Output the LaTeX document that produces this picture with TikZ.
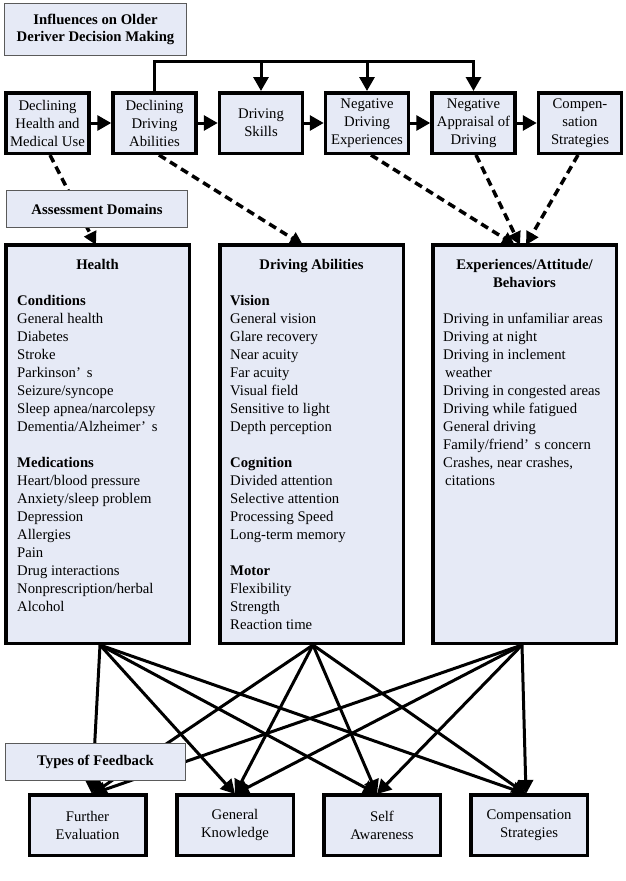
\documentclass[tikz,border=0pt]{standalone}
\usepackage{fontspec}
\setmainfont{Liberation Serif}
\usetikzlibrary{arrows.meta}
\definecolor{boxfill}{RGB}{230,234,246}
\definecolor{thinline}{RGB}{90,90,90}
\begin{document}
\begin{tikzpicture}[x=1pt,y=-1pt,
  every node/.style={font=\fontsize{14.7}{18}\selectfont},
  thickbox/.style={draw=black, line width=3.5pt, fill=boxfill, align=center, inner sep=0pt},
  topbox/.style={thickbox, minimum width=83pt, minimum height=60.5pt},
  botbox/.style={thickbox, minimum width=116.5pt, minimum height=60.5pt},
  bigbox/.style={thickbox, minimum width=183.5pt, minimum height=398.5pt},
  thinbox/.style={draw=thinline, line width=1pt, fill=boxfill, align=center, inner sep=0pt, font=\bfseries\fontsize{14.7}{17}\selectfont},
  listtext/.style={anchor=base west, align=left, inner sep=0pt},
  headtext/.style={anchor=base, align=center, inner sep=0pt, font=\bfseries\fontsize{14.7}{18}\selectfont},
  conn/.style={line width=3pt, -{Triangle[length=14pt,width=15pt]}},
  dconn/.style={line width=3.5pt, dash pattern=on 8pt off 5pt, -{Triangle[length=13pt,width=13pt]}},
  ]
\useasboundingbox (0,0) rectangle (625,881);
\fill[white] (0,0) rectangle (625,881);

% title
\node[thinbox, minimum width=182pt, minimum height=52pt] (title) at (95.5,29.5) {Influences on Older\\Deriver Decision Making};

% top row
\node[topbox] (b1) at (47.5,123) {Declining\\Health and\\Medical Use};
\node[topbox] (b2) at (154.5,123) {Declining\\Driving\\Abilities};
\node[topbox] (b3) at (261,123) {Driving\\Skills};
\node[topbox] (b4) at (367,123) {Negative\\Driving\\Experiences};
\node[topbox] (b5) at (473.5,123) {Negative\\Appraisal of\\Driving};
\node[topbox] (b6) at (580,123) {Compen-\\sation\\Strategies};

\draw[conn] (b1.east) -- (b2.west);
\draw[conn] (b2.east) -- (b3.west);
\draw[conn] (b3.east) -- (b4.west);
\draw[conn] (b4.east) -- (b5.west);
\draw[conn] (b5.east) -- (b6.west);

\coordinate (kk) at (0,61);
\draw[conn, line join=miter] (b2.north) -- (b2.north |- kk) -- (b5.north |- kk) -- (b5.north);
\draw[conn] (b3.north |- kk) -- (b3.north);
\draw[conn] (b4.north |- kk) -- (b4.north);

% big boxes
\node[bigbox] (hb) at (97.5,444) {};
\node[bigbox] (db) at (311.5,444) {};
\node[bigbox] (eb) at (524.5,444) {};

% base anchor of a multi-line node = baseline of its last line
\node[headtext] (hbt) at (97.5,269.5) {Health};
\node[listtext] (hbl) at (17,611.5) {\textbf{Conditions}\\General health\\Diabetes\\Stroke\\Parkinson’\hspace{6pt}s\\Seizure/syncope\\Sleep apnea/narcolepsy\\Dementia/Alzheimer’\hspace{6pt}s\\[18pt]\textbf{Medications}\\Heart/blood pressure\\Anxiety/sleep problem\\Depression\\Allergies\\Pain\\Drug interactions\\Nonprescription/herbal\\Alcohol};

\node[headtext] (dbt) at (311.5,269.5) {Driving Abilities};
\node[listtext] (dbl) at (230,629.5) {\textbf{Vision}\\General vision\\Glare recovery\\Near acuity\\Far acuity\\Visual field\\Sensitive to light\\Depth perception\\[18pt]\textbf{Cognition}\\Divided attention\\Selective attention\\Processing Speed\\Long-term memory\\[18pt]\textbf{Motor}\\Flexibility\\Strength\\Reaction time};

\node[headtext] (ebt) at (524.5,287.5) {Experiences/Attitude/\\Behaviors};
\node[listtext] (ebl) at (443,485.5) {Driving in unfamiliar areas\\Driving at night\\Driving in inclement\\\hspace{2pt}weather\\Driving in congested areas\\Driving while fatigued\\General driving\\Family/friend’\hspace{6pt}s concern\\Crashes, near crashes,\\\hspace{2pt}citations};

% bottom boxes
\node[botbox] (f1) at (87.5,825) {Further\\Evaluation};
\node[botbox] (f2) at (235,825) {General\\Knowledge};
\node[botbox] (f3) at (382,825) {Self\\Awareness};
\node[botbox] (f4) at (529,825) {Compensation\\Strategies};

% dashed arrows
\draw[dconn] ([xshift=2.5pt]b1.south) -- ([xshift=-1.5pt,yshift=-2pt]hb.north);
\draw[dconn] ([xshift=4.5pt]b2.south) -- ([xshift=-8.5pt,yshift=-2pt]db.north);
\draw[dconn] ([xshift=4pt]b4.south) -- ([xshift=-9.5pt,yshift=-2pt]eb.north);
\draw[dconn] ([xshift=2.5pt]b5.south) -- ([xshift=-4.5pt,yshift=-2pt]eb.north);
\draw[dconn] ([xshift=-2pt]b6.south) -- ([xshift=1.5pt,yshift=-2pt]eb.north);

% feedback connectors
\coordinate (s1) at ([xshift=2.5pt]hb.south);
\coordinate (s2) at ([xshift=1.5pt]db.south);
\coordinate (s3) at ([xshift=-2.5pt]eb.south);
\foreach \s in {s1,s2,s3}{
  \draw[conn] (\s) -- ([xshift=4.5pt,yshift=-1pt]f1.north);
  \draw[conn] (\s) -- ([yshift=-1pt]f2.north);
  \draw[conn] (\s) -- ([xshift=-5pt,yshift=-1pt]f3.north);
  \draw[conn] (\s) -- ([xshift=-3pt,yshift=-1pt]f4.north);
}

% label boxes on top
\node[thinbox, minimum width=181pt, minimum height=37pt] (ad) at (97,209) {Assessment Domains};
\node[thinbox, minimum width=180pt, minimum height=37pt] (tf) at (95.5,762) {Types of Feedback};
\end{tikzpicture}
\end{document}
